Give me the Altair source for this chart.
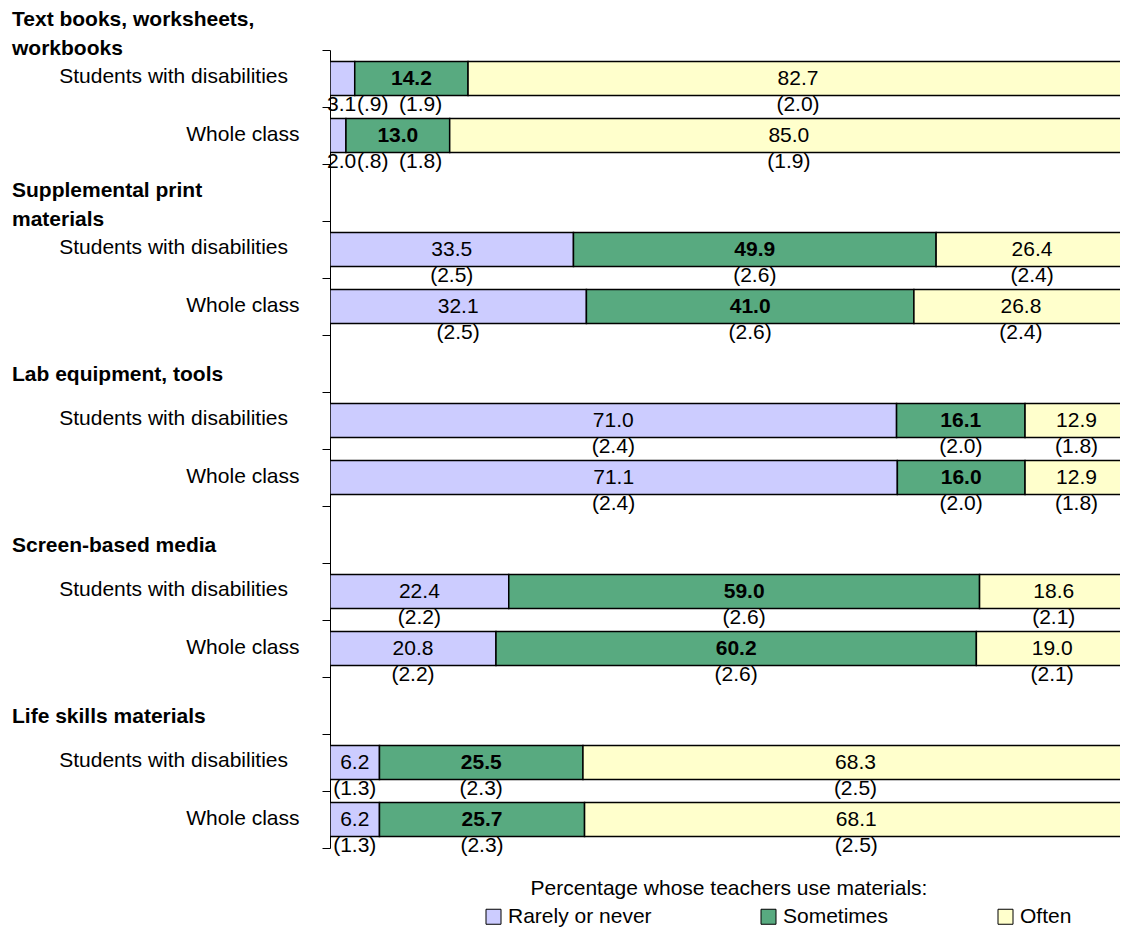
import altair as alt
import pandas as pd

FONT = "Liberation Sans, Arial, sans-serif"

groups = ["Text books, worksheets,\nworkbooks", "Supplemental print\nmaterials",
          "Lab equipment, tools", "Screen-based media", "Life skills materials"]
row_names = ["Students with disabilities", "Whole class"]
categories = ["Rarely or never", "Sometimes", "Often"]
colors = ["#CCCCFF", "#58AA80", "#FFFFCC"]

# percentages (Students with disabilities / Whole class)
rarely_swd = [3.1, 33.5, 71.0, 22.4, 6.2]
sometimes_swd = [14.2, 49.9, 16.1, 59.0, 25.5]
often_swd = [82.7, 26.4, 12.9, 18.6, 68.3]
rarely_wc = [2.0, 32.1, 71.1, 20.8, 6.2]
sometimes_wc = [13.0, 41.0, 16.0, 60.2, 25.7]
often_wc = [85.0, 26.8, 12.9, 19.0, 68.1]

# standard errors
se_rarely_swd = [0.9, 2.5, 2.4, 2.2, 1.3]
se_sometimes_swd = [1.9, 2.6, 2.0, 2.6, 2.3]
se_often_swd = [2.0, 2.4, 1.8, 2.1, 2.5]
se_rarely_wc = [0.8, 2.5, 2.4, 2.2, 1.3]
se_sometimes_wc = [1.8, 2.6, 2.0, 2.6, 2.3]
se_often_wc = [1.9, 2.4, 1.8, 2.1, 2.5]

swd_vals = [rarely_swd, sometimes_swd, often_swd]
wc_vals = [rarely_wc, sometimes_wc, often_wc]
swd_se = [se_rarely_swd, se_sometimes_swd, se_often_swd]
wc_se = [se_rarely_wc, se_sometimes_wc, se_often_wc]


def fmt_se(s):
    t = f"{s:.1f}"
    if t.startswith("0"):
        t = t[1:]
    return "(" + t + ")"


records = []
for g in range(len(groups)):
    for r, (vals, ses) in enumerate([(swd_vals, swd_se), (wc_vals, wc_se)]):
        slot = 3 * g + r
        crowded = bool(vals[0][g] < 5)
        for c, cat in enumerate(categories):
            v = vals[c][g]
            records.append({
                "group": groups[g], "row": row_names[r], "slot": slot,
                "cat": cat, "order": c, "value": v,
                "lbl": f"{v:.1f}", "selbl": fmt_se(ses[c][g]),
                "crowded": crowded,
            })
df = pd.DataFrame(records)

heads = pd.DataFrame({
    "head": groups,
    "hslot": [3 * g - 1 for g in range(len(groups))],
    "nlines": [h.count("\n") + 1 for h in groups],
})
swd_rows = pd.DataFrame({"row": [row_names[0]] * len(groups),
                         "rslot": [3 * g for g in range(len(groups))]})

xscale = alt.Scale(domain=[0, 0.99], nice=False, zero=False)
yscale = alt.Scale(domain=[0, 14], reverse=True, nice=False, zero=False)

label_expr = "datum.value % 3 == 1 ? 'Whole class' : ''"
yaxis = alt.Axis(values=list(range(15)), labelExpr=label_expr, tickSize=8, labelPadding=23,
                 labelOffset=27, domainColor="black", tickColor="black", labelFontSize=21,
                 labelFont=FONT, labelColor="black", grid=False, title=None, labelLimit=500,
                 labelOverlap=False, labelBound=False, labelFlush=False, labelBaseline="middle")

base = alt.Chart(df).transform_stack(
    stack="value", groupby=["slot"], as_=["x0", "x1"], offset="normalize",
    sort=[alt.SortField("order", "ascending")]
).transform_calculate(
    xm="(datum.x0 + datum.x1) / 2",
    ya="datum.slot + 0.2",
    yb="datum.slot + 0.8",
    yc="datum.slot + 0.5",
)

bars = base.mark_bar(stroke="black", strokeWidth=1.5, clip=True).encode(
    x=alt.X("x0:Q", scale=xscale, axis=None),
    x2="x1:Q",
    y=alt.Y("ya:Q", scale=yscale, axis=yaxis),
    y2="yb:Q",
    color=alt.Color("cat:N", scale=alt.Scale(domain=categories, range=colors),
                    legend=alt.Legend(orient="none", legendX=153, legendY=856,
                                      direction="horizontal", title=None,
                                      labelFontSize=21, labelFont=FONT, labelColor="black",
                                      symbolType="square", symbolSize=225,
                                      symbolStrokeColor="black", symbolStrokeWidth=1,
                                      symbolOpacity=1, labelOffset=4, columnPadding=106)),
)

xt = alt.X("xm:Q", scale=xscale, axis=None)
x0t = alt.X("x0:Q", scale=xscale, axis=None)
yt = alt.Y("yc:Q", scale=yscale, axis=yaxis)

txt = dict(fontSize=21, font=FONT, color="black", baseline="middle")

vals_reg = base.transform_filter("!(datum.crowded && datum.order == 0) && datum.order != 1").mark_text(
    **txt).encode(x=xt, y=yt, text="lbl:N")
vals_bold = base.transform_filter("datum.order == 1").mark_text(
    fontWeight="bold", **txt).encode(x=xt, y=yt, text="lbl:N")
se_reg = base.transform_filter("!(datum.crowded && datum.order < 2)").mark_text(
    dy=26, **txt).encode(x=xt, y=yt, text="selbl:N")

# rows whose first segment is too narrow: labels flow left to right below the bar
crowd = base.transform_filter("datum.crowded && datum.order < 2")
crowd_val = crowd.transform_filter("datum.order == 0").mark_text(
    dy=26, dx=-3, align="left", **txt).encode(x=x0t, y=yt, text="lbl:N")
crowd_se0 = crowd.transform_filter("datum.order == 0").mark_text(
    dy=26, dx=27, align="left", **txt).encode(x=x0t, y=yt, text="selbl:N")
crowd_se1 = crowd.transform_filter("datum.order == 1").transform_calculate(
    xs="datum.x0 - datum.x0").mark_text(
    dy=26, dx=69, align="left", **txt).encode(
    x=alt.X("xs:Q", scale=xscale, axis=None), y=yt, text="selbl:N")

# "Students with disabilities" row labels (sit a little further from the axis)
swd_labels = alt.Chart(swd_rows).transform_calculate(ry="datum.rslot + 0.5").mark_text(
    align="right", dy=-1.5, **txt).encode(
    x=alt.value(-42), y=alt.Y("ry:Q", scale=yscale, axis=yaxis), text="row:N")

hbase = alt.Chart(heads).transform_calculate(hy="datum.hslot + 0.5")
hstyle = dict(fontSize=21, font=FONT, color="black", fontWeight="bold", align="left",
              baseline="middle", lineBreak="\n", lineHeight=29)
head_one = hbase.transform_filter("datum.nlines == 1").mark_text(dy=11, **hstyle).encode(
    x=alt.value(-318), y=alt.Y("hy:Q", scale=yscale, axis=yaxis), text="head:N")
head_two = hbase.transform_filter("datum.nlines > 1").mark_text(dy=-2, **hstyle).encode(
    x=alt.value(-318), y=alt.Y("hy:Q", scale=yscale, axis=yaxis), text="head:N")

legend_title = alt.Chart(pd.DataFrame({"t": ["Percentage whose teachers use materials:"]})).mark_text(
    **txt, align="center").encode(
    x=alt.X(datum=0.5, scale=xscale, axis=None),
    y=alt.Y(datum=14.72, scale=yscale, axis=yaxis),
    text="t:N")

chart = alt.layer(bars, vals_reg, vals_bold, se_reg, crowd_val, crowd_se0, crowd_se1,
                  swd_labels, head_one, head_two, legend_title).properties(
    width=790, height=798,
    autosize=alt.AutoSizeParams(type="none"),
    padding={"left": 322, "top": 42, "right": 0, "bottom": 81},
).configure_view(stroke=None)

chart.save("out.html", embed_options={"renderer": "svg", "actions": False})
